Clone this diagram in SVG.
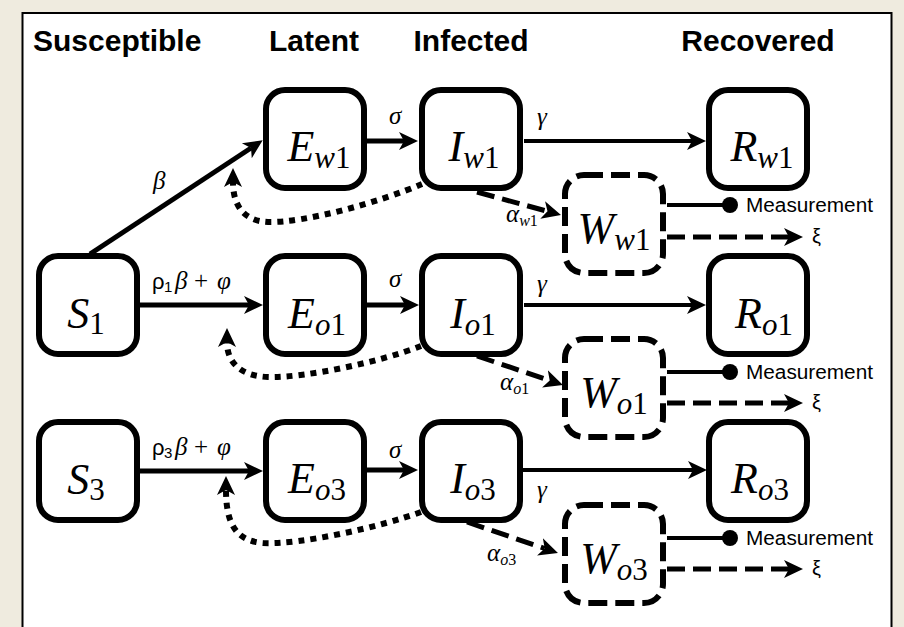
<svg xmlns="http://www.w3.org/2000/svg" width="904" height="627" viewBox="0 0 904 627">
  <defs>
    <style>
      .box { fill: #fff; stroke: #000; stroke-width: 6; }
      .wbox { fill: #fff; stroke: #000; stroke-width: 6; stroke-dasharray: 19 8; }
      .hdr { font-family: "Liberation Sans", Arial, sans-serif; font-weight: bold; font-size: 30px; fill: #000; }
      .nt { font-family: "Liberation Serif", "DejaVu Serif", serif; font-style: italic; font-size: 44px; text-anchor: middle; fill: #000; }
      .sub { font-size: 31px; }
      .num { font-style: normal; }
      .lbl { font-family: "Liberation Serif", "DejaVu Serif", serif; font-style: italic; font-size: 25px; fill: #000; }
      .lsub { font-size: 16px; }
      .rho { font-family: "Liberation Sans", "DejaVu Sans", sans-serif; font-style: normal; font-size: 22px; }
      .rsub { font-family: "Liberation Sans", "DejaVu Sans", sans-serif; font-style: normal; font-size: 15px; }
      .meas { font-family: "Liberation Sans", Arial, sans-serif; font-size: 20px; fill: #000; }
      .ln { fill: none; stroke: #000; stroke-width: 5; marker-end: url(#ah); }
      .thin { stroke-width: 4; }
      .dot { stroke-width: 6; stroke-dasharray: 6 6; }
      .dash { stroke-width: 5; stroke-dasharray: 18 8; }
      .probe { fill: none; stroke: #000; stroke-width: 4; }
    </style>
    <!-- barbed arrowhead; the path end sits at the notch, the tip is 14 units further on -->
    <marker id="ah" viewBox="0 0 20 20" markerWidth="20" markerHeight="20" markerUnits="userSpaceOnUse" refX="5" refY="10" orient="auto">
      <path d="M0,1 L19,10 L0,19 L5,10 Z" fill="#000"/>
    </marker>
  </defs>

  <!-- page and framed panel -->
  <rect width="904" height="627" fill="#efebdf"/>
  <rect x="22.5" y="13" width="869" height="640" fill="#fff" stroke="#000" stroke-width="2"/>

  <!-- column headings -->
  <g id="headings">
    <text class="hdr" x="33" y="51">Susceptible</text>
    <text class="hdr" x="314" y="51" text-anchor="middle">Latent</text>
    <text class="hdr" x="471" y="51" text-anchor="middle">Infected</text>
    <text class="hdr" x="758" y="51" text-anchor="middle">Recovered</text>
  </g>

  <!-- connectors -->
  <g id="connectors">
    <!-- row 1 -->
    <path class="ln" d="M90,254 L251,148"/>
    <path class="ln dot" d="M422,184 C380,202 305,223 268,222 C244,221 233,206 233,182"/>
    <path class="ln" d="M367,141 L404,141"/>
    <path class="ln thin" d="M524,141 L692,141"/>
    <path class="ln dash" d="M477,192 L547.5,211.3"/>
    <path class="probe" d="M667,205 L730,205"/>
    <circle cx="730" cy="205" r="8" fill="#000"/>
    <path class="ln dash" d="M667,237 L789,237"/>

    <!-- row 2 -->
    <path class="ln" d="M140,305 L249,305"/>
    <path class="ln dot" d="M421,346 C380,362 305,378 268,377 C240,376 227,362 227,342"/>
    <path class="ln" d="M367,305 L405,305"/>
    <path class="ln thin" d="M524,305 L692,305"/>
    <path class="ln dash" d="M477,356 L549.7,380.5"/>
    <path class="probe" d="M667,372 L730,372"/>
    <circle cx="730" cy="372" r="8" fill="#000"/>
    <path class="ln dash" d="M667,403 L789,403"/>

    <!-- row 3 -->
    <path class="ln" d="M140,471 L249,471"/>
    <path class="ln dot" d="M421,512 C380,527 300,545 263,543 C237,541 226,525 226,490"/>
    <path class="ln" d="M367,470 L404,470"/>
    <path class="ln thin" d="M523,470 L693,470"/>
    <path class="ln dash" d="M467,522 L544.7,548.5"/>
    <path class="probe" d="M667,538 L730,538"/>
    <circle cx="730" cy="538" r="8" fill="#000"/>
    <path class="ln dash" d="M667,569 L789,569"/>
  </g>

  <!-- rate labels -->
  <g id="labels">
    <text class="lbl" x="153" y="189">β</text>
    <text class="lbl" x="389" y="124">σ</text>
    <text class="lbl" x="537" y="125">γ</text>
    <text class="lbl" x="506" y="222">α<tspan class="lsub" dy="4">w</tspan><tspan class="lsub num">1</tspan></text>

    <text class="lbl" y="289"><tspan class="rho" x="152">ρ</tspan><tspan class="rsub" x="164" dy="3">1</tspan><tspan x="175" dy="-3">β</tspan><tspan class="num" x="194">+</tspan><tspan x="217">φ</tspan></text>
    <text class="lbl" x="389" y="287">σ</text>
    <text class="lbl" x="537" y="292">γ</text>
    <text class="lbl" x="500" y="390">α<tspan class="lsub" dy="4">o</tspan><tspan class="lsub num">1</tspan></text>

    <text class="lbl" y="455"><tspan class="rho" x="152">ρ</tspan><tspan class="rsub" x="164" dy="3">3</tspan><tspan x="175" dy="-3">β</tspan><tspan class="num" x="194">+</tspan><tspan x="217">φ</tspan></text>
    <text class="lbl" x="389" y="458">σ</text>
    <text class="lbl" x="537" y="498">γ</text>
    <text class="lbl" x="487" y="561">α<tspan class="lsub" dy="4">o</tspan><tspan class="lsub num">3</tspan></text>

    <text class="meas" x="746" y="212" textLength="127" lengthAdjust="spacingAndGlyphs">Measurement</text>
    <text class="meas" x="812" y="243">ξ</text>
    <text class="meas" x="746" y="379" textLength="127" lengthAdjust="spacingAndGlyphs">Measurement</text>
    <text class="meas" x="812" y="409">ξ</text>
    <text class="meas" x="746" y="545" textLength="127" lengthAdjust="spacingAndGlyphs">Measurement</text>
    <text class="meas" x="812" y="575">ξ</text>
  </g>

  <!-- compartments -->
  <g id="S1"><rect class="box" x="39" y="256" width="98" height="98" rx="19"/><text class="nt" x="86" y="328">S<tspan class="sub num" dy="6">1</tspan></text></g>
  <g id="S3"><rect class="box" x="39" y="422" width="98" height="98" rx="19"/><text class="nt" x="86" y="494">S<tspan class="sub num" dy="6">3</tspan></text></g>

  <g id="Ew1"><rect class="box" x="266" y="90" width="98" height="98" rx="19"/><text class="nt" x="319" y="161">E<tspan class="sub" dy="7">w</tspan><tspan class="sub num">1</tspan></text></g>
  <g id="Eo1"><rect class="box" x="266" y="256" width="98" height="98" rx="19"/><text class="nt" x="317" y="328">E<tspan class="sub" dy="7">o</tspan><tspan class="sub num">1</tspan></text></g>
  <g id="Eo3"><rect class="box" x="266" y="422" width="98" height="98" rx="19"/><text class="nt" x="317" y="493">E<tspan class="sub" dy="7">o</tspan><tspan class="sub num">3</tspan></text></g>

  <g id="Iw1"><rect class="box" x="422" y="90" width="98" height="98" rx="19"/><text class="nt" x="474" y="161">I<tspan class="sub" dy="7">w</tspan><tspan class="sub num">1</tspan></text></g>
  <g id="Io1"><rect class="box" x="422" y="256" width="98" height="98" rx="19"/><text class="nt" x="473" y="328">I<tspan class="sub" dy="7">o</tspan><tspan class="sub num">1</tspan></text></g>
  <g id="Io3"><rect class="box" x="422" y="422" width="98" height="98" rx="19"/><text class="nt" x="473" y="493">I<tspan class="sub" dy="7">o</tspan><tspan class="sub num">3</tspan></text></g>

  <g id="Rw1"><rect class="box" x="709" y="90" width="98" height="98" rx="19"/><text class="nt" x="762" y="161">R<tspan class="sub" dy="7">w</tspan><tspan class="sub num">1</tspan></text></g>
  <g id="Ro1"><rect class="box" x="709" y="256" width="98" height="98" rx="19"/><text class="nt" x="764" y="328">R<tspan class="sub" dy="7">o</tspan><tspan class="sub num">1</tspan></text></g>
  <g id="Ro3"><rect class="box" x="709" y="422" width="98" height="98" rx="19"/><text class="nt" x="760" y="493">R<tspan class="sub" dy="7">o</tspan><tspan class="sub num">3</tspan></text></g>

  <g id="Ww1"><rect class="wbox" x="565" y="175" width="98" height="98" rx="19"/><text class="nt" x="614" y="243">W<tspan class="sub" dy="7">w</tspan><tspan class="sub num">1</tspan></text></g>
  <g id="Wo1"><rect class="wbox" x="565" y="339" width="98" height="98" rx="19"/><text class="nt" x="614" y="407">W<tspan class="sub" dy="7">o</tspan><tspan class="sub num">1</tspan></text></g>
  <g id="Wo3"><rect class="wbox" x="565" y="505" width="98" height="98" rx="19"/><text class="nt" x="614" y="573">W<tspan class="sub" dy="7">o</tspan><tspan class="sub num">3</tspan></text></g>
</svg>
